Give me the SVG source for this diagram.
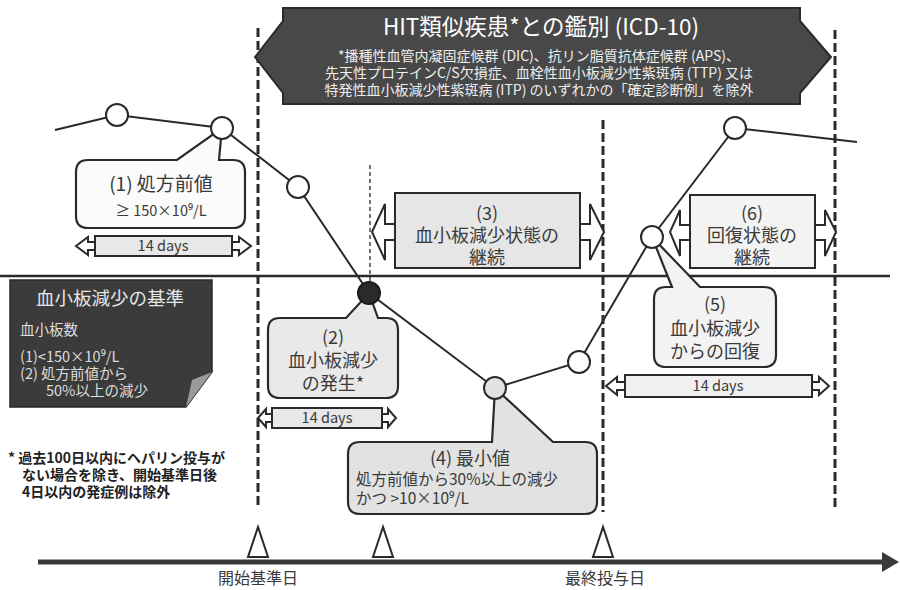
<svg xmlns="http://www.w3.org/2000/svg" width="900" height="590" viewBox="0 0 900 590">
<style>
text{font-family:"Noto Sans CJK JP","Noto Sans",sans-serif;fill:#3a3a3a}
.c{text-anchor:middle}
.ln{stroke:#2a2a2a;stroke-width:2;fill:none}
.dash{stroke:#2a2a2a;stroke-width:3;stroke-dasharray:9 4;fill:none}
.pt{fill:#fff;stroke:#2a2a2a;stroke-width:2}
.co{stroke:#2a2a2a;stroke-width:2.2}
.ah{fill:#fff;stroke:#2a2a2a;stroke-width:2}
.bd{fill:#e8e8e8;stroke:#2a2a2a;stroke-width:2}
.big{font-size:18px}
.sm{font-size:14.5px}
.bn{font-size:14px;fill:#eee}
.wt{font-size:14.5px;fill:#ddd}
.nt{font-size:14px;font-weight:bold;fill:#222}
</style>
<rect width="900" height="590" fill="#fff"/>

<g id="guides">
<line class="dash" x1="258" y1="28" x2="258" y2="508"/>
<line class="dash" x1="603" y1="120" x2="603" y2="512"/>
<line class="dash" x1="835" y1="30" x2="835" y2="508"/>
<line x1="370" y1="165" x2="370" y2="292" stroke="#2a2a2a" stroke-width="1.3" stroke-dasharray="4 3"/>
<line x1="0" y1="276" x2="890" y2="276" stroke="#2a2a2a" stroke-width="2.5"/>
</g>

<g id="banner">
<polygon points="255,57 283,21 283,8 800,8 800,21 831,57 800,93 800,104 283,104 283,93" fill="#484848" stroke="#2a2a2a" stroke-width="2"/>
<text class="c" x="541" y="35" style="font-size:22.5px;fill:#fff">HIT類似疾患*との鑑別 (ICD-10)</text>
<text class="c bn" x="539" y="61">*播種性血管内凝固症候群 (DIC)、抗リン脂質抗体症候群 (APS)、</text>
<text class="c bn" x="539" y="78">先天性プロテインC/S欠損症、血栓性血小板減少性紫斑病 (TTP) 又は</text>
<text class="c bn" x="539" y="95">特発性血小板減少性紫斑病 (ITP) のいずれかの「確定診断例」を除外</text>
</g>

<g id="connectors">
<polyline class="ln" points="55,130 117,115 222,128 298,187 369,293 495,388 579,362 652,237 735,128 857,142"/>
</g>

<g id="callout1">
<path class="co" fill="#fbfbfb" d="M88,160 H177 L222,128 L219,160 H233 Q245,160 245,172 V216 Q245,228 233,228 H88 Q76,228 76,216 V172 Q76,160 88,160 Z"/>
<text class="c" x="161" y="191" style="font-size:19px">(1) 処方前値</text>
<text class="c sm" x="161" y="216">≥ 150×10⁹/L</text>
</g>
<g id="days1">
<polygon class="ah" points="95,242 88,242 88,237 76,246 88,255 88,250 95,250"/>
<polygon class="ah" points="232,242 239,242 239,237 251,246 239,255 239,250 232,250"/>
<rect class="bd" x="95" y="236" width="137" height="20"/>
<text class="c sm" x="163" y="251">14 days</text>
</g>

<g id="callout2">
<path class="co" fill="#e9e9e9" d="M280,318 H346 L369,293 L378,318 H386 Q398,318 398,330 V386 Q398,398 386,398 H280 Q268,398 268,386 V330 Q268,318 280,318 Z"/>
<text class="c big" x="333" y="344">(2)</text>
<text class="c big" x="333" y="367">血小板減少</text>
<text class="c big" x="333" y="390">の発生*</text>
</g>
<g id="days2">
<polygon class="ah" points="272,414 266,414 266,409 258,418 266,427 266,422 272,422"/>
<polygon class="ah" points="382,414 388,414 388,409 396,418 388,427 388,422 382,422"/>
<rect class="bd" x="272" y="408" width="110" height="20"/>
<text class="c sm" x="327" y="423">14 days</text>
</g>

<g id="state3">
<polygon class="ah" points="395,224 385,224 385,204 372,232 385,260 385,240 395,240"/>
<polygon class="ah" points="580,224 590,224 590,204 604,232 590,260 590,240 580,240"/>
<rect class="bd" x="395" y="193" width="185" height="75" style="fill:#e6e6e6"/>
<text class="c big" x="487" y="220">(3)</text>
<text class="c big" x="487" y="242">血小板減少状態の</text>
<text class="c big" x="487" y="264">継続</text>
</g>

<g id="state6">
<polygon class="ah" points="690,225 680,225 680,210 670,232 680,256 680,240 690,240"/>
<polygon class="ah" points="815,225 825,225 825,210 836,232 825,256 825,240 815,240"/>
<rect class="bd" x="690" y="195" width="125" height="73" style="fill:#f3f3f3"/>
<text class="c big" x="752" y="220">(6)</text>
<text class="c big" x="752" y="242">回復状態の</text>
<text class="c big" x="752" y="264">継続</text>
</g>

<g id="callout4">
<path class="co" fill="#e2e2e2" d="M360,442 H492 L495,388 L553,442 H585 Q597,442 597,454 V502 Q597,514 585,514 H360 Q348,514 348,502 V454 Q348,442 360,442 Z"/>
<text class="c big" x="470" y="465">(4) 最小値</text>
<text x="356" y="485" style="font-size:15.5px">処方前値から30%以上の減少</text>
<text x="356" y="504" style="font-size:15.5px">かつ &gt;10×10⁹/L</text>
</g>

<g id="callout5">
<path class="co" fill="#f3f3f3" d="M666,287 H672 L652,237 L700,287 H764 Q776,287 776,299 V355 Q776,367 764,367 H666 Q654,367 654,355 V299 Q654,287 666,287 Z"/>
<text class="c big" x="715" y="311">(5)</text>
<text class="c big" x="715" y="335">血小板減少</text>
<text class="c big" x="715" y="358">からの回復</text>
</g>
<g id="days5">
<polygon class="ah" points="625,382 617,382 617,377 606,386 617,395 617,390 625,390"/>
<polygon class="ah" points="812,382 819,382 819,377 829,386 819,395 819,390 812,390"/>
<rect class="bd" x="625" y="375" width="187" height="22" style="fill:#f0f0f0"/>
<text class="c sm" x="718" y="391">14 days</text>
</g>

<g id="points">
<circle class="pt" cx="117" cy="115" r="11"/>
<circle class="pt" cx="222" cy="128" r="11"/>
<circle class="pt" cx="298" cy="187" r="11"/>
<circle cx="369" cy="293" r="11" fill="#2a2a2a" stroke="#1a1a1a" stroke-width="2"/>
<circle class="pt" cx="495" cy="388" r="11" style="fill:#e2e2e2"/>
<circle class="pt" cx="579" cy="362" r="11"/>
<circle class="pt" cx="652" cy="237" r="11"/>
<circle class="pt" cx="735" cy="128" r="11"/>
</g>

<g id="criteria">
<polygon points="10,280 212,280 212,372 186,407 10,407" fill="#3b3b3b" stroke="#2a2a2a" stroke-width="1.5"/>
<polygon points="212,372 186,407 192,380" fill="#9a9a9a"/>
<text class="c" x="110" y="305" style="font-size:18.5px;fill:#e6e6e6">血小板減少の基準</text>
<text class="wt" x="20" y="335">血小板数</text>
<text class="wt" x="20" y="362">(1)&lt;150×10⁹/L</text>
<text class="wt" x="20" y="379">(2) 処方前値から</text>
<text class="wt" x="46" y="396">50%以上の減少</text>
</g>

<g id="note">
<text class="nt" x="8" y="463">* 過去100日以内にヘパリン投与が</text>
<text class="nt" x="22" y="480">ない場合を除き、開始基準日後</text>
<text class="nt" x="22" y="497">4日以内の発症例は除外</text>
</g>

<g id="axis">
<line x1="38" y1="562" x2="884" y2="562" stroke="#3a3a3a" stroke-width="5"/>
<polygon points="882,552 899,562 882,572" fill="#3a3a3a"/>
<polygon class="ah" points="258,527 248,557 268,557"/>
<polygon class="ah" points="383,527 373,557 393,557"/>
<polygon class="ah" points="603,527 593,557 613,557"/>
<text class="c" x="258" y="584" style="font-size:16px">開始基準日</text>
<text class="c" x="605" y="584" style="font-size:16px">最終投与日</text>
</g>
</svg>
